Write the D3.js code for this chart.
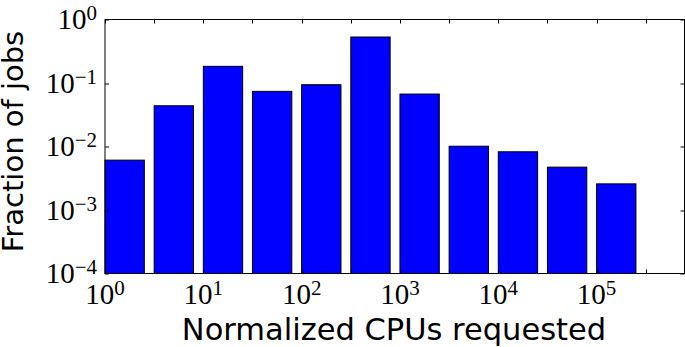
<!DOCTYPE html>
<html>
<head>
<meta charset="utf-8">
<script src="https://cdn.jsdelivr.net/npm/d3@7"></script>
<style>
  html, body { margin: 0; padding: 0; background: #fff; }
  svg { display: block; }
</style>
</head>
<body>
<div id="chart"></div>
<script>
// bin left edges, in log10 of normalized CPUs
var binStarts = [0, 0.5, 1, 1.5, 2, 2.5, 3, 3.5, 4, 4.5, 5];
// fraction of jobs in each bin
var fractions = [0.0061, 0.0438, 0.183, 0.0738, 0.094, 0.53, 0.067, 0.0101, 0.00826, 0.00473, 0.00258];
// bar width in decades
var binWidth = 0.4;
// x ticks (half decades, log10) and labelled decades
var xTickExps = [0, 0.5, 1, 1.5, 2, 2.5, 3, 3.5, 4, 4.5, 5, 5.5];
var xLabelExps = [0, 1, 2, 3, 4, 5];
var yLabelExps = [0, -1, -2, -3, -4];

var W = 685, H = 347;
var margin = {top: 19.5, right: 0.5, bottom: 73.5, left: 105};
var width = W - margin.left - margin.right,
    height = H - margin.top - margin.bottom;

var svg = d3.select('#chart').append('svg')
    .attr('width', W)
    .attr('height', H);

var g = svg.append('g')
    .attr('transform', 'translate(' + margin.left + ',' + margin.top + ')');

var x = d3.scaleLog()
    .domain([1, Math.pow(10, 5.894)])
    .range([0, width]);

var y = d3.scaleLog()
    .domain([1e-4, 1])
    .range([height, 0]);

// bars
g.append('g')
    .selectAll('rect')
    .data(fractions)
    .enter()
    .append('rect')
    .attr('x', function (d, i) { return x(Math.pow(10, binStarts[i])); })
    .attr('y', function (d) { return y(d); })
    .attr('width', function (d, i) {
        return x(Math.pow(10, binStarts[i] + binWidth)) - x(Math.pow(10, binStarts[i]));
    })
    .attr('height', function (d) { return height - y(d); })
    .attr('fill', '#0000ff')
    .attr('stroke', '#000')
    .attr('stroke-width', 1);

var tickLen = 4;
var ticks = g.append('g').attr('stroke', '#000').attr('stroke-width', 1);

// x ticks top and bottom, inside
xTickExps.forEach(function (e) {
    var px = Math.round(x(Math.pow(10, e))) + 0.5;
    ticks.append('line').attr('x1', px).attr('x2', px).attr('y1', height).attr('y2', height - tickLen);
    ticks.append('line').attr('x1', px).attr('x2', px).attr('y1', 0).attr('y2', tickLen);
});
// y ticks left and right, inside
yLabelExps.forEach(function (e) {
    var py = Math.round(y(Math.pow(10, e))) + 0.5;
    ticks.append('line').attr('x1', 0).attr('x2', tickLen).attr('y1', py).attr('y2', py);
    ticks.append('line').attr('x1', width).attr('x2', width - tickLen).attr('y1', py).attr('y2', py);
});

// frame
g.append('rect')
    .attr('x', 0).attr('y', 0)
    .attr('width', width).attr('height', height)
    .attr('fill', 'none')
    .attr('stroke', '#000')
    .attr('stroke-width', 1);

var mathFont = '"Liberation Serif", serif';
var expo = function (e) { return e < 0 ? '\u2212' + (-e) : '' + e; };

// x tick labels
var xl = g.append('g')
    .attr('font-family', mathFont)
    .attr('font-size', 29)
    .attr('text-anchor', 'middle')
    .selectAll('text')
    .data(xLabelExps)
    .enter()
    .append('text')
    .attr('x', function (d) { return x(Math.pow(10, d)); })
    .attr('y', height + 30);
xl.append('tspan').text('10');
xl.append('tspan').attr('font-size', 21).attr('dy', -9).text(function (d) { return expo(d); });

// y tick labels
var yl = g.append('g')
    .attr('font-family', mathFont)
    .attr('font-size', 29)
    .attr('text-anchor', 'end')
    .selectAll('text')
    .data(yLabelExps)
    .enter()
    .append('text')
    .attr('x', -8)
    .attr('y', function (d) { return y(Math.pow(10, d)) + 9.5; });
yl.append('tspan').text('10');
yl.append('tspan').attr('font-size', 21).attr('dy', -9).text(function (d) { return expo(d); });

// axis titles
svg.append('text')
    .attr('x', 394)
    .attr('y', 340)
    .attr('text-anchor', 'middle')
    .attr('font-family', '"DejaVu Sans", sans-serif')
    .attr('font-size', 30.5)
    .text('Normalized CPUs requested');

svg.append('text')
    .attr('transform', 'translate(23,141.5) rotate(-90)')
    .attr('text-anchor', 'middle')
    .attr('font-family', '"DejaVu Sans", sans-serif')
    .attr('font-size', 29)
    .text('Fraction of jobs');
</script>
</body>
</html>
